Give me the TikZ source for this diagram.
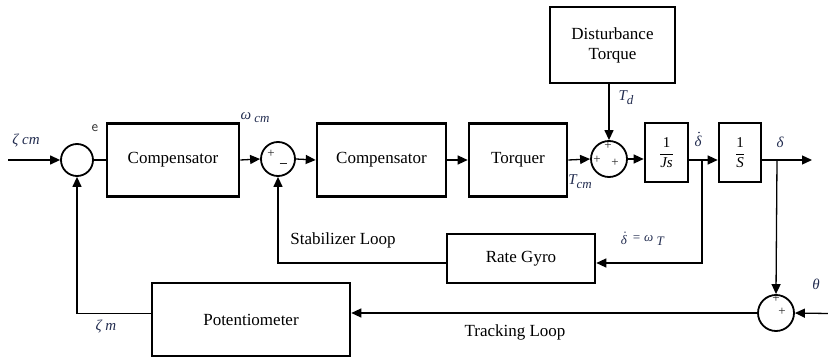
\documentclass[tikz,border=0pt]{standalone}
\usepackage{fontspec}
\setmainfont{Liberation Serif}
\usetikzlibrary{arrows.meta,calc}
\definecolor{lbl}{RGB}{35,45,80}
\begin{document}
\begin{tikzpicture}[x=1pt,y=-1pt,
  blk/.style={draw,line width=2.6pt,rectangle,inner sep=0pt,font=\fontsize{17}{20}\selectfont,align=center},
  sumc/.style={draw,line width=1.8pt,circle,minimum size=34pt,inner sep=0pt},
  wire/.style={line width=1.3pt},
  arr/.style={wire,-{Triangle[length=10pt,width=9pt]}},
  lab/.style={font=\fontsize{15}{16}\selectfont\itshape,text=lbl,inner sep=0pt},
  sgn/.style={font=\fontsize{13}{13}\selectfont,text=black!85,inner sep=0pt},
  loop/.style={font=\fontsize{17}{18}\selectfont,inner sep=0pt}]
\useasboundingbox (0,0) rectangle (828,358);
% blocks
\node[sumc,minimum size=32pt] (c1) at (77,160) {};
\node[blk,minimum width=132pt,minimum height=73pt] (comp1) at (173,160) {Compensator};
\node[sumc] (c2) at (278,159) {};
\node[blk,minimum width=129pt,minimum height=73pt] (comp2) at (381.5,160) {Compensator};
\node[blk,minimum width=98pt,minimum height=73pt] (torq) at (518,160) {Torquer};
\node[sumc,minimum size=36pt] (c3) at (609,159) {};
\node[blk,minimum width=43pt,minimum height=59pt,font=\fontsize{15}{16}\selectfont] (js) at (666.5,152.5) {$\displaystyle\frac{\mbox{1}}{\mbox{\itshape Js}}$};
\node[blk,minimum width=42pt,minimum height=59pt,font=\fontsize{15}{16}\selectfont] (s) at (740,152.5) {$\displaystyle\frac{\mbox{1}}{\mbox{\itshape S}}$};
\node[blk,minimum width=125pt,minimum height=76pt] (dist) at (612.5,45) {Disturbance\\Torque};
\node[blk,minimum width=148pt,minimum height=49pt] (gyro) at (521,258.5) {Rate Gyro};
\node[blk,minimum width=198pt,minimum height=73pt] (pot) at (251,319.5) {Potentiometer};
\node[sumc,minimum size=36pt] (c4) at (776,313) {};
% coordinates
\coordinate (in) at (8,160);
\coordinate (out) at (812,160);
\coordinate (b1) at (702,160);
\coordinate (b2) at (777,160);
\coordinate (gy) at (702,263);
\coordinate (py) at (828,313.5);
% forward path
\draw[arr] (in) -- (c1.west);
\draw[wire] (c1.east) -- (comp1.west);
\draw[arr] (comp1.east) -- (c2.west);
\draw[arr] (c2.east) -- (comp2.west);
\draw[arr] (comp2.east) -- (torq.west);
\draw[arr] (torq.east) -- (c3.west);
\draw[arr] (c3.north |- dist.south) -- (c3.north);
\draw[arr] (c3.east) -- (c3.east -| js.west);
\draw[arr] (b1 -| js.east) -- (b1 -| s.west);
\draw[arr] (b2 -| s.east) -- (out);
% stabilizer loop
\draw[arr] (b1) -- (gy) -- (gy -| gyro.east);
\draw[arr] (gy -| gyro.west) -| (c2.south);
% tracking loop
\draw[arr] (b2) -- (c4.north);
\draw[arr] (py) -- (c4.east);
\draw[arr] (c4.west) -- (c4.west -| pot.east);
\draw[arr] (py -| pot.west) -| (c1.south);
% signs
\node[sgn] at (271,154) {+};
\node[sgn] at (283,164) {\rule{7pt}{1pt}};
\node[sgn] at (608,146) {+};
\node[sgn] at (597,159.5) {+};
\node[sgn] at (615,163) {+};
\node[sgn] at (776,299) {+};
\node[sgn] at (782,312) {+};
% labels
\node[lab] at (26,141) {ζ cm};
\node[lab,font=\fontsize{15}{16}\selectfont\sffamily,text=black!80] at (95,128) {e};
\node[lab] at (255,118) {ω\raisebox{-3pt}{\fontsize{13}{13}\selectfont\ cm}};
\node[lab] at (626,98) {T\raisebox{-4pt}{\fontsize{13}{13}\selectfont d}};
\node[lab] at (580,182) {T\raisebox{-4pt}{\fontsize{13}{13}\selectfont cm}};
\node[lab] (dd1) at (698,141) {δ};
\fill[lbl] ($(dd1.north)+(1,-3)$) circle (0.9pt);
\node[lab] at (780,142) {δ};
\node[lab,font=\fontsize{13}{14}\selectfont\itshape] (dd2) at (624,240) {δ};
\fill[lbl] ($(dd2.north)+(1,-3)$) circle (0.8pt);
\node[lab,font=\fontsize{13}{14}\selectfont\itshape,anchor=west] at (632,240) {= ω\raisebox{-4pt}{\ T}};
\node[lab] at (816,284) {θ};
\node[lab] at (106,327) {ζ m};
\node[loop] at (343,240) {Stabilizer Loop};
\node[loop] at (515,332) {Tracking Loop};
\end{tikzpicture}
\end{document}
